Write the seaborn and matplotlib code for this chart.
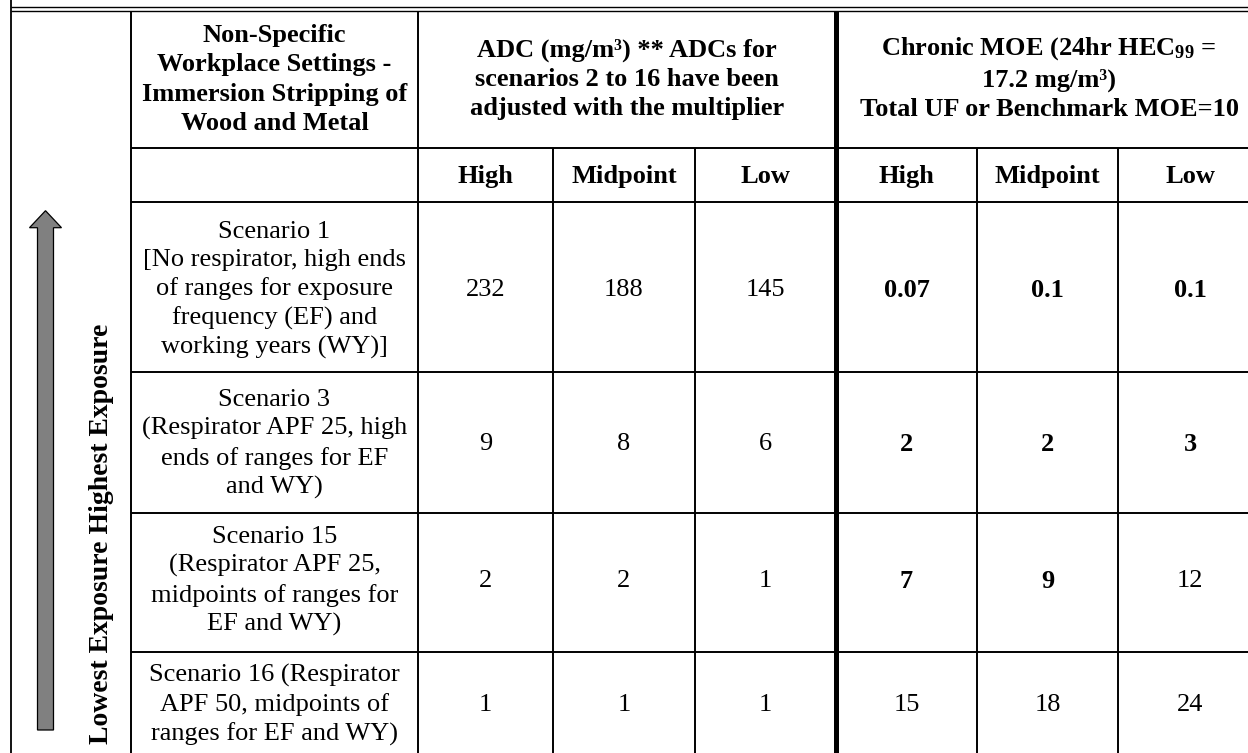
import matplotlib
matplotlib.use("Agg")
import matplotlib.pyplot as plt
from matplotlib.patches import FancyArrow
import seaborn as sns

# ---------------- data ----------------
setting_header = "Non-Specific\nWorkplace Settings -\nImmersion Stripping of\nWood and Metal"
adc_header = "ADC (mg/m³) ** ADCs for\nscenarios 2 to 16 have been\nadjusted with the multiplier"
moe_header = "Chronic MOE (24hr HEC$_{\\mathbf{99}}$ =\n17.2 mg/m³)\nTotal UF or Benchmark MOE=10"
sub_labels = ["High", "Midpoint", "Low"]
side_label = "Lowest Exposure Highest Exposure"

scenarios = [
    "Scenario 1\n[No respirator, high ends\nof ranges for exposure\nfrequency (EF) and\nworking years (WY)]",
    "Scenario 3\n(Respirator APF 25, high\nends of ranges for EF\nand WY)",
    "Scenario 15\n(Respirator APF 25,\nmidpoints of ranges for\nEF and WY)",
    "Scenario 16 (Respirator\nAPF 50, midpoints of\nranges for EF and WY)",
]
adc_high = ["232", "9", "2", "1"]
adc_mid = ["188", "8", "2", "1"]
adc_low = ["145", "6", "1", "1"]
moe_high = ["0.07", "2", "7", "15"]
moe_mid = ["0.1", "2", "9", "18"]
moe_low = ["0.1", "3", "12", "24"]
benchmark_moe = 10

# ---------------- layout (pixels) ----------------
W, H = 1248, 753
col_edges = [11, 131, 418, 553, 695, 836, 977, 1118, 1262]
row_edges = [10.7, 148, 202, 372, 513, 652, 758]
row_centers = [290, 444, 581, 705]

sns.set_theme(style="white")
plt.rcParams["font.family"] = ["Liberation Serif", "DejaVu Serif"]
plt.rcParams["text.color"] = "black"
plt.rcParams["mathtext.fontset"] = "custom"
plt.rcParams["mathtext.rm"] = "Liberation Serif"
plt.rcParams["mathtext.bf"] = "Liberation Serif:bold"
plt.rcParams["mathtext.it"] = "Liberation Serif:italic"

FS = 19
LS = 1.35

fig = plt.figure(figsize=(W / 100, H / 100), dpi=100)
ax = fig.add_axes([0, 0, 1, 1])
ax.set_xlim(0, W)
ax.set_ylim(H, 0)
ax.axis("off")
fig.patch.set_facecolor("white")

k = "black"
thin = 1.4
# top double rule
ax.hlines([7.3, 10.7], col_edges[0], W, color=k, lw=1.0)
# outer left border
ax.vlines(col_edges[0], 0, H, color=k, lw=1.3)
# full-height verticals
ax.vlines([col_edges[1], col_edges[2]], row_edges[0], H, color=k, lw=thin)
ax.vlines(col_edges[5], row_edges[0], H, color=k, lw=3.6)
# sub-column verticals
ax.vlines([col_edges[3], col_edges[4], col_edges[6], col_edges[7]], row_edges[1], H, color=k, lw=thin)
# horizontal rules (not through side column)
ax.hlines(row_edges[1:6], col_edges[1], W, color=k, lw=thin)

def cx(i):
    return (col_edges[i] + col_edges[i + 1]) / 2

hdr_y = (row_edges[0] + row_edges[1]) / 2
sub_y = (row_edges[1] + row_edges[2]) / 2 + 1

ax.text(cx(1), hdr_y, setting_header, ha="center", va="center", fontsize=FS,
        weight="bold", linespacing=LS, color=k)
ax.text((col_edges[2] + col_edges[5]) / 2, hdr_y, adc_header, ha="center", va="center",
        fontsize=FS, weight="bold", linespacing=LS, color=k)
ax.text((col_edges[5] + col_edges[8]) / 2, hdr_y - 1, moe_header, ha="center", va="center",
        fontsize=FS, weight="bold", linespacing=LS, color=k)

for j, lab in enumerate(sub_labels * 2):
    ax.text(cx(2 + j), sub_y, lab, ha="center", va="center", fontsize=FS, weight="bold", color=k)

for r, sc in enumerate(scenarios):
    y = row_centers[r]
    ax.text(cx(1), y, sc, ha="center", va="center", fontsize=FS, linespacing=LS, color=k)
    for j, col in enumerate([adc_high, adc_mid, adc_low]):
        ax.text(cx(2 + j), y, col[r], ha="center", va="center", fontsize=FS, color=k)
    for j, col in enumerate([moe_high, moe_mid, moe_low]):
        v = col[r]
        w = "bold" if float(v) < benchmark_moe else "normal"
        ax.text(cx(5 + j), y, v, ha="center", va="center", fontsize=FS, weight=w, color=k)

# side arrow and label
arrow = FancyArrow(45.5, 730, 0, -519.3, width=16, head_width=32, head_length=17,
                   length_includes_head=True, facecolor="#808080", edgecolor="black", lw=0.9)
ax.add_patch(arrow)
ax.text(102, 534, side_label, rotation=90, ha="center", va="center", fontsize=20,
        weight="bold", color=k)

fig.savefig("out.png", dpi=100, facecolor="white")
